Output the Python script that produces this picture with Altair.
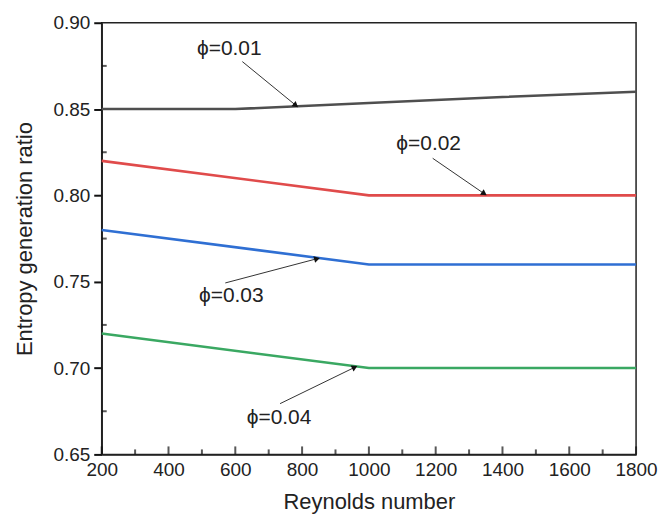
import altair as alt
import pandas as pd

# ---- data ----
re_01 = [200, 600, 1000, 1400, 1800]
ratio_01 = [0.85, 0.85, 0.8535, 0.857, 0.86]
re_rest = [200, 1000, 1800]
ratio_02 = [0.82, 0.80, 0.80]
ratio_03 = [0.78, 0.76, 0.76]
ratio_04 = [0.72, 0.70, 0.70]

series_names = ["\u03d5=0.01", "\u03d5=0.02", "\u03d5=0.03", "\u03d5=0.04"]
series_colors = ["#4f4f4f", "#e04b4b", "#2f6fd3", "#3aa862"]

# annotation positions (data units)
label_x = [582, 1179, 588, 731]
label_y = [0.885, 0.830, 0.742, 0.671]
arrow_x0 = [621, 1191, 570, 734]
arrow_y0 = [0.8775, 0.8215, 0.7493, 0.6794]
arrow_x1 = [779, 1343, 842, 955]
arrow_y1 = [0.8525, 0.8013, 0.7632, 0.7002]
arrow_angle = [128, 124, 75, 64]

x_domain = [200, 1800]
y_domain = [0.65, 0.90]
x_major = [200, 400, 600, 800, 1000, 1200, 1400, 1600, 1800]
x_minor = [300, 500, 700, 900, 1100, 1300, 1500, 1700]
y_major = [0.65, 0.70, 0.75, 0.80, 0.85, 0.90]
y_minor = [0.675, 0.725, 0.775, 0.825, 0.875]

rows = []
for r, v in zip(re_01, ratio_01):
    rows.append({"Re": r, "ratio": v, "series": series_names[0]})
for vals, name in zip([ratio_02, ratio_03, ratio_04], series_names[1:]):
    for r, v in zip(re_rest, vals):
        rows.append({"Re": r, "ratio": v, "series": name})
lines_df = pd.DataFrame(rows)

ann_df = pd.DataFrame({
    "label": series_names, "lx": label_x, "ly": label_y,
    "x0": arrow_x0, "y0": arrow_y0, "x1": arrow_x1, "y1": arrow_y1,
    "angle": arrow_angle,
})

FONT = "Liberation Sans"
INK = "#222222"

x_scale = alt.Scale(domain=x_domain, nice=False, zero=False)
y_scale = alt.Scale(domain=y_domain, nice=False, zero=False)

x_axis = alt.Axis(
    title="Reynolds number", values=x_major, format="d", ticks=False,
    labelFlush=False, labelOverlap=False, labelBound=False,
    labelFontSize=19, titleFontSize=22, labelFont=FONT, titleFont=FONT,
    titleFontWeight="normal", labelColor=INK, titleColor=INK,
    labelPadding=6, titlePadding=12, grid=False,
    domainColor=INK, domainWidth=1.5,
)
y_axis = alt.Axis(
    title="Entropy generation ratio", values=y_major, format=".2f",
    tickSize=8, tickColor="#111111", tickWidth=2,
    labelFlush=False, labelOverlap=False,
    labelFontSize=19, titleFontSize=22, labelFont=FONT, titleFont=FONT,
    titleFontWeight="normal", labelColor=INK, titleColor=INK,
    labelPadding=4, titlePadding=16, grid=False,
    domainColor=INK, domainWidth=1.5,
)

lines = alt.Chart(lines_df).mark_line(strokeWidth=2.6).encode(
    x=alt.X("Re:Q", scale=x_scale, axis=x_axis),
    y=alt.Y("ratio:Q", scale=y_scale, axis=y_axis),
    color=alt.Color("series:N", scale=alt.Scale(domain=series_names, range=series_colors), legend=None),
)

# inward ticks on the bottom axis (major and minor) and inward minor ticks on the left axis
xmaj_ticks = alt.Chart(pd.DataFrame({"v": x_major})).mark_tick(
    orient="vertical", size=8, thickness=2, color="#111111", yOffset=-4
).encode(x=alt.X("v:Q", scale=x_scale), y=alt.datum(y_domain[0], scale=y_scale))
xmin_ticks = alt.Chart(pd.DataFrame({"v": x_minor})).mark_tick(
    orient="vertical", size=5, thickness=2, color="#111111", yOffset=-2.5
).encode(x=alt.X("v:Q", scale=x_scale), y=alt.datum(y_domain[0], scale=y_scale))
ymin_ticks = alt.Chart(pd.DataFrame({"v": y_minor})).mark_tick(
    orient="horizontal", size=5, thickness=2, color="#111111", xOffset=2.5
).encode(y=alt.Y("v:Q", scale=y_scale), x=alt.datum(x_domain[0], scale=x_scale))

shafts = alt.Chart(ann_df).mark_rule(color="#333", strokeWidth=1).encode(
    x=alt.X("x0:Q", scale=x_scale), y=alt.Y("y0:Q", scale=y_scale),
    x2="x1:Q", y2="y1:Q",
)

heads = alt.Chart(ann_df).mark_point(shape="triangle", filled=True, color="#111", size=45, opacity=1).encode(
    x=alt.X("x1:Q", scale=x_scale), y=alt.Y("y1:Q", scale=y_scale),
    angle=alt.Angle("angle:Q", scale=None),
)

labels = alt.Chart(ann_df).mark_text(font=FONT, fontSize=21, color=INK).encode(
    x=alt.X("lx:Q", scale=x_scale), y=alt.Y("ly:Q", scale=y_scale),
    text="label:N",
)

chart = alt.layer(lines, xmaj_ticks, xmin_ticks, ymin_ticks, shafts, heads, labels).properties(
    width=536, height=433,
    padding={"left": 6, "top": 5, "right": 0, "bottom": 2},
).configure_view(stroke=INK, strokeWidth=1.5)

chart.save("out.html", embed_options={"renderer": "svg", "actions": False})
